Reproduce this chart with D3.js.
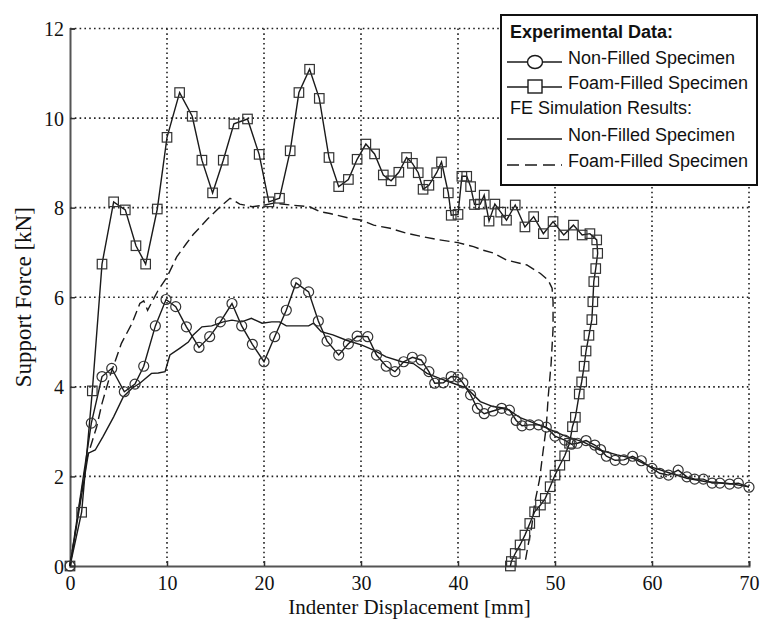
<!DOCTYPE html>
<html>
<head>
<meta charset="utf-8">
<script src="https://cdn.jsdelivr.net/npm/d3@7"></script>
<style>
  body { margin: 0; background: #fff; }
  svg { display: block; }
  .tick-label { font-family: "Liberation Serif", "Times New Roman", serif; font-size: 20px; fill: #111; }
  .axis-title { font-family: "Liberation Serif", "Times New Roman", serif; font-size: 21px; fill: #111; }
  .legend text { font-family: "Liberation Sans", Arial, sans-serif; font-size: 18px; fill: #111; }
</style>
</head>
<body>
<div id="chart"></div>
<script>
// force vs indenter displacement, experiment vs FE

var xTicks = [0, 10, 20, 30, 40, 50, 60, 70]
var yTicks = [0, 2, 4, 6, 8, 10, 12]

// experimental, non-filled (circles) [mm, kN]
var expNonFilled = [[0,0],[2.2,3.19],[3.3,4.23],[4.3,4.41],[5.6,3.89],[6.7,4.06],[7.6,4.46],[8.8,5.36],[9.9,5.95],[10.9,5.79],[12.0,5.34],[13.3,4.88],[14.4,5.12],[15.5,5.45],[16.7,5.86],[17.7,5.36],[18.8,4.95],[20.0,4.56],[21.1,5.12],[22.3,5.71],[23.3,6.32],[24.6,6.12],[25.6,5.47],[26.5,5.02],[27.7,4.71],[28.7,4.96],[29.6,5.13],[30.7,5.12],[31.6,4.71],[32.6,4.46],[33.5,4.34],[34.4,4.56],[35.3,4.66],[36.2,4.6],[37.0,4.34],[37.6,4.08],[38.5,4.09],[39.3,4.23],[40.0,4.22],[40.5,4.09],[41.3,3.82],[42.0,3.52],[42.7,3.4],[43.6,3.46],[44.5,3.52],[45.3,3.48],[46.0,3.25],[46.6,3.13],[47.4,3.15],[48.3,3.15],[49.1,3.1],[50.0,2.9],[51.0,2.81],[51.7,2.72],[52.3,2.74],[53.2,2.8],[54.1,2.7],[54.7,2.6],[55.3,2.45],[56.2,2.36],[57.1,2.37],[58.0,2.45],[58.9,2.35],[60.0,2.18],[60.8,2.07],[61.7,2.03],[62.7,2.14],[63.6,1.99],[64.4,1.94],[65.3,1.94],[66.2,1.85],[67.0,1.85],[68.0,1.83],[68.9,1.85],[70,1.76]]

// experimental, foam-filled (squares)
var expFoamFilled = [[0,0],[1.2,1.2],[2.3,3.91],[3.3,6.74],[4.5,8.13],[5.7,7.95],[6.8,7.15],[7.8,6.74],[9.0,7.97],[10.0,9.57],[11.3,10.57],[12.6,10.04],[13.6,9.06],[14.7,8.33],[15.8,9.06],[16.9,9.87],[18.3,9.98],[19.5,9.19],[20.5,8.13],[21.6,8.21],[22.7,9.27],[23.6,10.57],[24.7,11.09],[25.7,10.44],[26.7,9.12],[27.7,8.47],[28.7,8.63],[29.6,9.08],[30.5,9.42],[31.4,9.2],[32.3,8.73],[33.1,8.6],[33.9,8.79],[34.7,9.12],[35.3,8.99],[35.9,8.78],[36.4,8.41],[37.0,8.5],[37.8,8.78],[38.3,9.02],[39.0,8.33],[39.3,7.83],[40.0,7.85],[40.4,8.7],[40.9,8.7],[41.3,8.47],[41.7,8.07],[42.3,8.08],[42.7,8.28],[43.2,7.7],[43.8,8.08],[44.4,7.9],[45.0,7.72],[45.9,8.06],[46.9,7.57],[47.8,7.8],[48.8,7.42],[49.8,7.69],[50.9,7.39],[51.9,7.61],[52.8,7.39],[53.6,7.42],[54.3,7.28],[54.4,6.98],[54.2,6.64],[54.0,6.35],[53.9,5.9],[53.8,5.5],[53.5,5.15],[53.2,4.8],[53.0,4.46],[52.75,4.11],[52.5,3.84],[52.1,3.32],[51.8,3.11],[51.5,2.74],[51.0,2.46],[50.5,2.25],[50.0,2.03],[49.5,1.77],[49.0,1.51],[48.5,1.36],[47.9,1.21],[47.4,0.95],[46.9,0.69],[46.4,0.47],[45.9,0.28],[45.5,0.1],[45.4,0]]

// FE simulation, non-filled (solid)
var feNonFilled = [[0,0],[1.9,2.52],[2.6,2.59],[3.4,2.89],[4.5,3.33],[5.5,3.78],[6.4,3.97],[7.2,4.08],[8.4,4.3],[9.1,4.31],[9.8,4.34],[10.3,4.71],[11.3,4.86],[12.2,5.0],[12.7,5.16],[13.6,5.34],[14.6,5.36],[15.8,5.45],[16.7,5.49],[17.7,5.45],[18.7,5.53],[19.8,5.42],[20.8,5.45],[21.6,5.45],[22.3,5.36],[24.6,5.36],[25.1,5.42],[25.9,5.23],[27.1,5.16],[28.5,5.04],[30.1,4.93],[31.3,4.82],[32.6,4.67],[34.2,4.56],[35.4,4.52],[36.8,4.3],[38.1,4.19],[39.5,4.08],[40.9,3.97],[42.3,3.67],[43.6,3.56],[45.0,3.52],[46.4,3.31],[48.8,3.11],[50.0,3.0],[51.2,2.89],[52.9,2.77],[54.6,2.59],[56.4,2.48],[58.1,2.4],[59.8,2.22],[61.9,2.07],[63.6,1.96],[65.6,1.88],[67.7,1.85],[70,1.77]]

// FE simulation, foam-filled (dashed)
var feFoamFilled = [[0,0],[1.7,2.37],[2.75,3.11],[3.3,3.63],[4.1,4.23],[5.3,4.97],[6.4,5.42],[7.2,5.86],[7.6,5.92],[8.0,5.71],[9.1,6.16],[10.0,6.45],[11.0,6.9],[12.0,7.2],[12.7,7.4],[14.2,7.75],[15.5,8.02],[16.5,8.21],[17.5,8.08],[18.8,8.02],[20.1,8.06],[21.0,8.1],[22.7,8.06],[24.7,8.02],[25.8,7.91],[26.8,7.87],[28.9,7.76],[30.1,7.72],[31.3,7.61],[33.0,7.54],[34.7,7.43],[36.4,7.35],[38.1,7.28],[40.0,7.22],[41.6,7.13],[42.6,7.05],[43.6,6.99],[45.0,6.83],[47.1,6.72],[48.5,6.53],[49.3,6.38],[49.7,6.2],[49.8,5.9],[49.8,5.3],[49.6,4.52],[49.3,3.78],[49.1,3.11],[48.7,2.44],[48.4,1.92],[47.9,1.4],[47.6,0.88],[47.2,0.43],[46.9,0.06]]

var legendHeads = ['Experimental Data:', 'FE Simulation Results:']
var legendNames = ['Non-Filled Specimen', 'Foam-Filled Specimen']

var width = 760, height = 621
var plot = { left: 70, right: 749, top: 28.5, bottom: 566 }

var svg = d3.select('#chart').append('svg')
	.attr('width', width)
	.attr('height', height)

var x = d3.scaleLinear().domain([0, 70]).range([plot.left, plot.right])
var y = d3.scaleLinear().domain([0, 12]).range([plot.bottom, plot.top])

var ink = '#1a1a1a'

// dotted grid
var grid = svg.append('g')
grid.selectAll('.gx').data(xTicks.slice(1)).enter().append('line')
	.attr('x1', function(d) { return x(d) }).attr('x2', function(d) { return x(d) })
	.attr('y1', plot.top).attr('y2', plot.bottom)
grid.selectAll('.gy').data(yTicks.slice(1)).enter().append('line')
	.attr('x1', plot.left).attr('x2', plot.right)
	.attr('y1', function(d) { return y(d) }).attr('y2', function(d) { return y(d) })
grid.selectAll('line')
	.attr('stroke', '#222')
	.attr('stroke-width', 1.6)
	.attr('stroke-dasharray', '1.6,3.2')

// axes, ticks pointing inward
var xAxis = svg.append('g')
	.attr('transform', 'translate(0,' + plot.bottom + ')')
	.call(d3.axisBottom(x).tickValues(xTicks).tickSize(-5).tickPadding(10).tickFormat(d3.format('d')))
var yAxis = svg.append('g')
	.attr('transform', 'translate(' + plot.left + ',0)')
	.call(d3.axisLeft(y).tickValues(yTicks).tickSize(-5).tickPadding(6).tickFormat(d3.format('d')))

svg.selectAll('.domain').attr('stroke', '#555').attr('stroke-width', 2)
svg.selectAll('.tick line').attr('stroke', '#333').attr('stroke-width', 1.5)
svg.selectAll('.tick text').attr('class', 'tick-label').attr('font-size', null).attr('font-family', null)
yAxis.selectAll('.tick text').attr('dy', '0.35em')
xAxis.selectAll('.tick text').attr('dy', '0.71em')

svg.append('text').attr('class', 'axis-title')
	.attr('x', (plot.left + plot.right) / 2).attr('y', 614)
	.attr('text-anchor', 'middle')
	.text('Indenter Displacement [mm]')
svg.append('text').attr('class', 'axis-title')
	.attr('transform', 'translate(31,' + ((plot.top + plot.bottom) / 2) + ') rotate(-90)')
	.attr('text-anchor', 'middle')
	.style('font-size', '23px')
	.text('Support Force [kN]')

var line = d3.line()
	.x(function(d) { return x(d[0]) })
	.y(function(d) { return y(d[1]) })

var marks = svg.append('g')

marks.append('path').datum(feFoamFilled)
	.attr('d', line).attr('fill', 'none').attr('stroke', ink)
	.attr('stroke-width', 1.4).attr('stroke-dasharray', '10,5')
marks.append('path').datum(feNonFilled)
	.attr('d', line).attr('fill', 'none').attr('stroke', ink).attr('stroke-width', 1.4)
marks.append('path').datum(expNonFilled)
	.attr('d', line).attr('fill', 'none').attr('stroke', ink).attr('stroke-width', 1.4)
marks.append('path').datum(expFoamFilled)
	.attr('d', line).attr('fill', 'none').attr('stroke', ink).attr('stroke-width', 1.4)

marks.selectAll('.circ').data(expNonFilled).enter().append('circle')
	.attr('cx', function(d) { return x(d[0]) })
	.attr('cy', function(d) { return y(d[1]) })
	.attr('r', 5)
	.attr('fill', 'none').attr('stroke', '#333').attr('stroke-width', 1.2)

var sq = 9.5
marks.selectAll('.sq').data(expFoamFilled).enter().append('rect')
	.attr('x', function(d) { return x(d[0]) - sq / 2 })
	.attr('y', function(d) { return y(d[1]) - sq / 2 })
	.attr('width', sq).attr('height', sq)
	.attr('fill', 'none').attr('stroke', '#333').attr('stroke-width', 1.2)

// legend
var lg = svg.append('g').attr('class', 'legend')
lg.append('rect')
	.attr('x', 501).attr('y', 15).attr('width', 256).attr('height', 170)
	.attr('fill', '#fff').attr('stroke', '#111').attr('stroke-width', 2)

var rows = [
	{ text: legendHeads[0], head: true, base: 38 },
	{ text: legendNames[0], mark: 'circle', base: 64 },
	{ text: legendNames[1], mark: 'square', base: 89 },
	{ text: legendHeads[1], head: false, base: 114 },
	{ text: legendNames[0], dash: null, base: 141 },
	{ text: legendNames[1], dash: '12,6', base: 167 }
]

rows.forEach(function(r) {
	var isHead = r.head !== undefined
	lg.append('text')
		.attr('x', isHead ? 510 : 568)
		.attr('y', r.base)
		.attr('font-weight', r.head ? 'bold' : null)
		.text(r.text)
	if (isHead) return
	var ly = r.base - 2
	lg.append('line')
		.attr('x1', 507).attr('x2', 562).attr('y1', ly).attr('y2', ly)
		.attr('stroke', ink).attr('stroke-width', 1.5)
		.attr('stroke-dasharray', r.dash || null)
	if (r.mark === 'circle') {
		lg.append('ellipse').attr('cx', 535).attr('cy', ly).attr('rx', 7.5).attr('ry', 6.5)
			.attr('fill', '#fff').attr('stroke', ink).attr('stroke-width', 1.4)
	} else if (r.mark === 'square') {
		lg.append('rect').attr('x', 528).attr('y', ly - 7).attr('width', 14).attr('height', 13)
			.attr('fill', '#fff').attr('stroke', ink).attr('stroke-width', 1.4)
	}
})
</script>
</body>
</html>
